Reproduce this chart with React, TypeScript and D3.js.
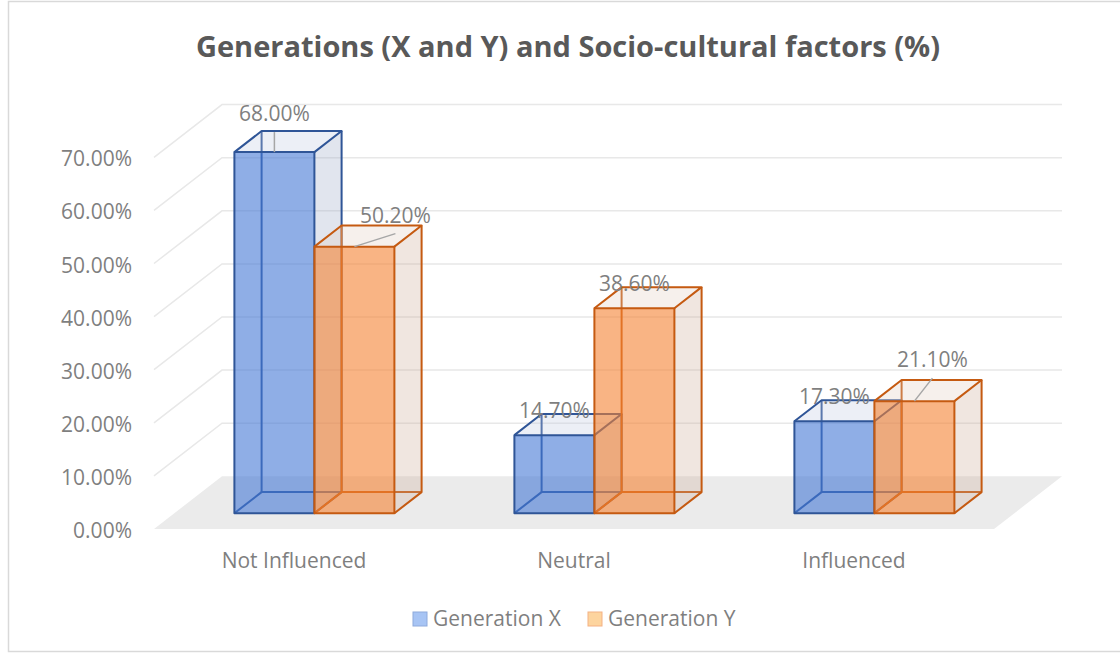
import React from 'react';
import * as d3 from 'd3';

// ---- data ----
const categories = ['Not Influenced', 'Neutral', 'Influenced'];
const seriesNames = ['Generation X', 'Generation Y'];
const genX = [0.68, 0.147, 0.173];
const genY = [0.502, 0.386, 0.211];
const yTicks = [0, 0.1, 0.2, 0.3, 0.4, 0.5, 0.6, 0.7];
const chartTitle = 'Generations (X and Y) and Socio-cultural factors (%)';

// ---- layout / style ----
const W = 1120;
const H = 653;
const X0 = 154; // front-left corner of floor
const Y0 = 529; // front baseline
const DX = 68; // full depth offset x
const DY = 52.7; // full depth offset y
const PLOT_W = 840;
const PLOT_H = 371.7;
const Z_FRONT = 0.3;
const Z_BACK = 0.7;
const FONT = "'Open Sans', 'Noto Sans', sans-serif";
const FS = 21;

// label offsets (dx, dy) relative to default position, per category/series
const labelOffsets = [
  [[0, -14], [41, -7]],
  [[0, 0], [0, 0]],
  [[0, 0], [18, -17]],
];

const styles = [
  {
    front: 'rgba(68,120,213,0.6)',
    side: 'rgba(155,168,198,0.3)',
    top: 'rgba(192,202,225,0.3)',
    edge: '#2f5597',
    legendFill: '#a7c4f4',
    legendStroke: '#8eaadc',
  },
  {
    front: 'rgba(245,130,50,0.6)',
    side: 'rgba(205,172,152,0.3)',
    top: 'rgba(225,205,192,0.3)',
    edge: '#c55a11',
    legendFill: '#fdd49e',
    legendStroke: '#f4b183',
  },
];

const xBand = d3.scaleBand<string>().domain(categories).range([0, PLOT_W]);
const xSeries = d3.scaleBand<string>().domain(seriesNames).range([60, 220]);
const yH = d3.scaleLinear().domain([0, 0.7]).range([0, PLOT_H]);
const fmt = d3.format('.2%');

const proj = (x: number, v: number, z: number): [number, number] => [
  X0 + x + z * DX,
  Y0 - yH(v) - z * DY,
];
const poly = (pts: [number, number][]) =>
  'M' + pts.map((p) => p[0].toFixed(2) + ',' + p[1].toFixed(2)).join('L') + 'Z';
const line = (pts: [number, number][]) =>
  'M' + pts.map((p) => p[0].toFixed(2) + ',' + p[1].toFixed(2)).join('L');

function Bar({ x0, x1, v, s }: { x0: number; x1: number; v: number; s: any }) {
  const fbl = proj(x0, 0, Z_FRONT);
  const fbr = proj(x1, 0, Z_FRONT);
  const ftl = proj(x0, v, Z_FRONT);
  const ftr = proj(x1, v, Z_FRONT);
  const bbl = proj(x0, 0, Z_BACK);
  const bbr = proj(x1, 0, Z_BACK);
  const btl = proj(x0, v, Z_BACK);
  const btr = proj(x1, v, Z_BACK);
  const sw = 2;
  return (
    <g>
      {/* hidden edges */}
      <path d={line([fbl, bbl, bbr])} fill="none" stroke={s.edge} strokeWidth={sw} />
      <path d={line([bbl, btl])} fill="none" stroke={s.edge} strokeWidth={sw} />
      {/* faces */}
      <path d={poly([fbr, bbr, btr, ftr])} fill={s.side} />
      <path d={poly([ftl, ftr, btr, btl])} fill={s.top} />
      <path d={poly([fbl, fbr, ftr, ftl])} fill={s.front} />
      {/* visible edges */}
      <path d={poly([fbl, fbr, ftr, ftl])} fill="none" stroke={s.edge} strokeWidth={sw} strokeLinejoin="round" />
      <path d={line([ftl, btl, btr, ftr])} fill="none" stroke={s.edge} strokeWidth={sw} strokeLinejoin="round" />
      <path d={line([fbr, bbr, btr])} fill="none" stroke={s.edge} strokeWidth={sw} strokeLinejoin="round" />
    </g>
  );
}

export default function App() {
  const series = [genX, genY];
  const bars: any[] = [];
  const labels: any[] = [];
  categories.forEach((c, ci) => {
    series.forEach((vals, si) => {
      const v = vals[ci];
      const x0 = (xBand(c) as number) + (xSeries(seriesNames[si]) as number);
      const x1 = x0 + xSeries.bandwidth();
      bars.push(<Bar key={c + si} x0={x0} x1={x1} v={v} s={styles[si]} />);
      const top = proj((x0 + x1) / 2, v, Z_FRONT);
      const [odx, ody] = labelOffsets[ci][si];
      const lx = top[0] + odx;
      const ly = top[1] - 17 + ody;
      const hasLeader = Math.abs(odx) + Math.abs(ody) > 5;
      labels.push(
        <g key={'l' + c + si}>
          {hasLeader && (
            <line x1={top[0]} y1={top[1]} x2={lx} y2={ly + 11} stroke="#a6a6a6" strokeWidth={1.5} />
          )}
          <text x={lx} y={ly} textAnchor="middle" fontFamily={FONT} fontSize={FS} fill="#7f7f7f">
            {fmt(v)}
          </text>
        </g>
      );
    });
  });

  const floor = poly([proj(0, 0, 0), proj(0, 0, 1), proj(PLOT_W, 0, 1), proj(PLOT_W, 0, 0)]);

  return (
    <svg
      width={W}
      height={H}
      style={{ position: 'absolute', left: 0, top: 0, background: '#fff' }}
    >
      <rect x={8.5} y={1.5} width={1200} height={650} fill="#fff" stroke="#d9d9d9" strokeWidth={1.5} />
      <text x={568} y={57} textAnchor="middle" fontFamily={FONT} fontWeight={700} fontSize={29} fill="#595959">
        {chartTitle}
      </text>
      {/* floor */}
      <path d={floor} fill="#ebebeb" />
      {/* gridlines */}
      {yTicks
        .filter((t) => t > 0)
        .map((t) => (
          <path
            key={'g' + t}
            d={line([proj(0, t, 0), proj(0, t, 1), proj(PLOT_W, t, 1)])}
            fill="none"
            stroke="#e8e8e8"
            strokeWidth={1.5}
          />
        ))}
      {/* y tick labels */}
      {yTicks.map((t) => (
        <text
          key={'t' + t}
          x={132}
          y={proj(0, t, 0)[1] + 9}
          textAnchor="end"
          fontFamily={FONT}
          fontSize={FS}
          fill="#7f7f7f"
        >
          {fmt(t)}
        </text>
      ))}
      {/* category labels */}
      {categories.map((c) => (
        <text
          key={'c' + c}
          x={X0 + (xBand(c) as number) + xBand.bandwidth() / 2}
          y={568}
          textAnchor="middle"
          fontFamily={FONT}
          fontSize={FS}
          fill="#7f7f7f"
        >
          {c}
        </text>
      ))}
      {bars}
      {labels}
      {/* legend */}
      {seriesNames.map((n, i) => {
        const lx = [413, 588][i];
        return (
          <g key={'lg' + n}>
            <rect x={lx} y={612} width={14} height={14} fill={styles[i].legendFill} stroke={styles[i].legendStroke} strokeWidth={1} />
            <text x={lx + 20} y={625.5} fontFamily={FONT} fontSize={FS} fill="#7f7f7f">
              {n}
            </text>
          </g>
        );
      })}
    </svg>
  );
}
